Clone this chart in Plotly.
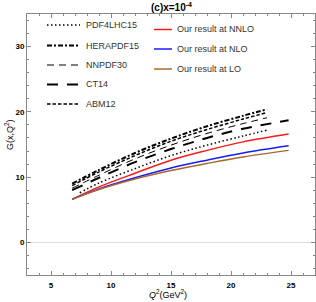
import plotly.graph_objects as go

# ---- data ----
q2_ours = [6.76, 9, 12, 15, 18, 21, 24.8]
nnlo = [6.6, 8.5, 10.6, 12.6, 14.1, 15.4, 16.6]
nlo = [6.6, 8.2, 9.9, 11.4, 12.6, 13.7, 14.8]
lo = [6.6, 8.1, 9.7, 11.0, 12.1, 13.1, 14.1]

q2_pdf4 = [7.4, 9, 12, 15, 18, 21, 23]
pdf4lhc = [7.6, 9.1, 11.3, 13.3, 14.9, 16.3, 17.2]

q2_ct14 = [6.76, 9, 12, 15, 18, 21, 24.8]
ct14 = [8.0, 9.9, 12.3, 14.3, 16.0, 17.4, 18.7]

q2_glob = [6.76, 9, 12, 15, 18, 21, 23]
nnpdf = [8.3, 10.3, 12.8, 14.9, 16.7, 18.2, 19.1]
abm12 = [8.7, 10.8, 13.3, 15.5, 17.3, 18.9, 19.9]
herapdf = [9.0, 11.1, 13.7, 15.9, 17.8, 19.4, 20.4]

ext_names = ["PDF4LHC15", "HERAPDF15", "NNPDF30", "CT14", "ABM12"]
our_names = ["Our result at NNLO", "Our result at NLO", "Our result at LO"]

# ---- styles ----
ext_styles = {
    "PDF4LHC15": dict(color="black", width=1.5, dash="1.5px,2.5px"),
    "HERAPDF15": dict(color="black", width=2, dash="5px,2px,2px,2px"),
    "NNPDF30": dict(color="black", width=1, dash="7px,5px"),
    "CT14": dict(color="black", width=2, dash="11px,9px"),
    "ABM12": dict(color="black", width=1.5, dash="3.5px,2px"),
}
our_styles = {
    "Our result at NNLO": dict(color="#ff1a1a", width=1.5),
    "Our result at NLO": dict(color="#1a1aff", width=1.5),
    "Our result at LO": dict(color="#a86a2a", width=1.5),
}

fig = go.Figure()
series = [
    ("PDF4LHC15", q2_pdf4, pdf4lhc),
    ("HERAPDF15", q2_glob, herapdf),
    ("NNPDF30", q2_glob, nnpdf),
    ("CT14", q2_ct14, ct14),
    ("ABM12", q2_glob, abm12),
]
for name, xs, ys in series:
    fig.add_trace(go.Scatter(x=xs, y=ys, mode="lines", line=dict(shape="spline", **ext_styles[name]),
                             name=name, showlegend=False))
for name, ys in zip(our_names, [nnlo, nlo, lo]):
    fig.add_trace(go.Scatter(x=q2_ours, y=ys, mode="lines", line=dict(shape="spline", **our_styles[name]),
                             name=name, showlegend=False))

W, H = 316, 302
L, R, T, B = 27, 1, 14, 27
pw, ph = W - L - R, H - T - B

def px(x):
    return (x - L) / pw

def py(y):
    return (H - B - y) / ph

font = "Liberation Sans, Arial, sans-serif"

# manual legend
left_rows = [25, 45.5, 65, 84.5, 104]
for name, yy in zip(ext_names, left_rows):
    st = ext_styles[name]
    fig.add_shape(type="line", xref="paper", yref="paper", x0=px(47), x1=px(80), y0=py(yy), y1=py(yy),
                  line=dict(color=st["color"], width=st["width"], dash=st["dash"]))
    fig.add_annotation(xref="paper", yref="paper", x=px(84), y=py(yy), text=name, showarrow=False,
                       xanchor="left", yanchor="middle", font=dict(family=font, size=9, color="#333"))
right_rows = [29.5, 49, 69]
for name, yy in zip(our_names, right_rows):
    st = our_styles[name]
    fig.add_shape(type="line", xref="paper", yref="paper", x0=px(154), x1=px(172), y0=py(yy), y1=py(yy),
                  line=dict(color=st["color"], width=st["width"]))
    fig.add_annotation(xref="paper", yref="paper", x=px(175), y=py(yy), text=name, showarrow=False,
                       xanchor="left", yanchor="middle", font=dict(family=font, size=9, color="#333"))

# titles
fig.add_annotation(xref="paper", yref="paper", x=px(171), y=py(7), text="<b>(c)x=10<sup>-4</sup></b>",
                   showarrow=False, xanchor="center", yanchor="middle", font=dict(family=font, size=10, color="black"))
fig.add_annotation(xref="paper", yref="paper", x=px(9), y=py(135), text="G(x,Q<sup>2</sup>)", textangle=-90,
                   showarrow=False, xanchor="center", yanchor="middle", font=dict(family=font, size=9, color="black"))
fig.add_annotation(xref="paper", yref="paper", x=px(168), y=py(294), text="<i>Q</i><sup>2</sup>(GeV<sup>2</sup>)",
                   showarrow=False, xanchor="center", yanchor="middle", font=dict(family=font, size=9, color="black"))

axis_common = dict(showline=True, linecolor="#888", linewidth=1, mirror="ticks", ticks="inside", ticklen=4,
                   tickcolor="#888", showgrid=False,
                   tickfont=dict(family=font, size=8, color="black", weight="bold"))
fig.update_xaxes(range=[3, 27], tickvals=[5, 10, 15, 20, 25], zeroline=False, ticklabelstandoff=2,
                 minor=dict(dtick=1, tick0=0, ticks="inside", ticklen=2, tickcolor="#888"), **axis_common)
fig.update_yaxes(range=[-5, 35], tickvals=[0, 10, 20, 30], zeroline=True, zerolinecolor="#ddd", zerolinewidth=1,
                 minor=dict(dtick=2, tick0=0, ticks="inside", ticklen=2, tickcolor="#888"), **axis_common)

fig.update_layout(width=W, height=H, margin=dict(l=L, r=R, t=T, b=B), plot_bgcolor="white",
                  paper_bgcolor="white", showlegend=False)
fig.write_html("out.html", config={"displayModeBar": False},
               post_script="document.body.style.margin='0';document.body.style.overflow='hidden';")
